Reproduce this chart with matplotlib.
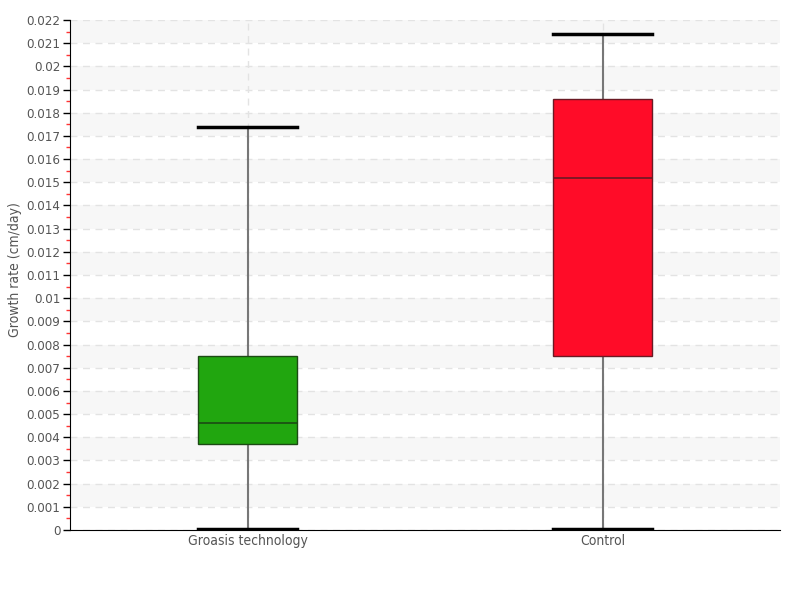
import matplotlib
matplotlib.use("Agg")
import matplotlib.pyplot as plt
from matplotlib.ticker import MultipleLocator
import numpy as np

categories = ["Groasis technology", "Control"]
whisker_low = [0.00005, 0.00005]
q1 = [0.0037, 0.0075]
median = [0.0046, 0.0152]
q3 = [0.0075, 0.0186]
whisker_high = [0.0174, 0.0214]
fill_colors = ["#21a60f", "#ff0c28"]
edge_colors = ["#1c4a14", "#6a1a24"]

plt.rcParams['font.family'] = ['DejaVu Sans']
plt.rcParams['font.stretch'] = 'condensed'

fig = plt.figure(figsize=(8, 6), dpi=100)
ax = fig.add_axes([70/800, 70/600, 710/800, 510/600])

ymax = 0.022
for k in range(1, 22, 2):
    ax.axhspan(k*0.001, (k+1)*0.001, color="#f7f7f7", zorder=0, lw=0)

stats = []
for i, c in enumerate(categories):
    stats.append(dict(label=c, whislo=whisker_low[i], q1=q1[i], med=median[i],
                      q3=q3[i], whishi=whisker_high[i], fliers=[]))

bp = ax.bxp(stats, positions=range(len(categories)), widths=0.28, patch_artist=True,
            showfliers=False, capwidths=0.28)
for i, b in enumerate(bp['boxes']):
    b.set_facecolor(fill_colors[i])
    b.set_edgecolor(edge_colors[i])
    b.set_linewidth(1)
    b.set_zorder(3)
for i, m in enumerate(bp['medians']):
    m.set_color(edge_colors[i])
    m.set_linewidth(1.2)
    m.set_zorder(4)
for w in bp['whiskers']:
    w.set_color("#777777")
    w.set_linewidth(1.5)
    w.set_zorder(2)
for c in bp['caps']:
    c.set_color("black")
    c.set_linewidth(2.5)
    c.set_zorder(3)

ax.set_xlim(-0.5, 1.5)
ax.set_ylim(0, ymax)
ax.yaxis.set_minor_locator(MultipleLocator(0.0005))
ticks = np.arange(0, 0.0221, 0.001)
ax.set_yticks(ticks)
ax.set_yticklabels(["0" if v == 0 else ("%.3f" % v).rstrip("0") for v in ticks])
ax.grid(axis='both', which='major', color="#e3e3e3", linestyle=(0, (5, 4)), linewidth=1, zorder=1)
ax.set_axisbelow(True)

ax.tick_params(axis='y', which='major', length=5, width=1, color='black', labelsize=9.5,
               labelcolor="#555555", pad=2)
ax.tick_params(axis='y', which='minor', length=3, width=1, color='#ff3333')
ax.tick_params(axis='x', which='major', length=0, labelsize=10, labelcolor="#555555", pad=3)

for s in ['top', 'right']:
    ax.spines[s].set_visible(False)

ax.set_ylabel("Growth rate (cm/day)", fontsize=10, color="#555555")
ax.yaxis.set_label_coords(-0.068, 0.51)

fig.savefig("out.png", dpi=100)
